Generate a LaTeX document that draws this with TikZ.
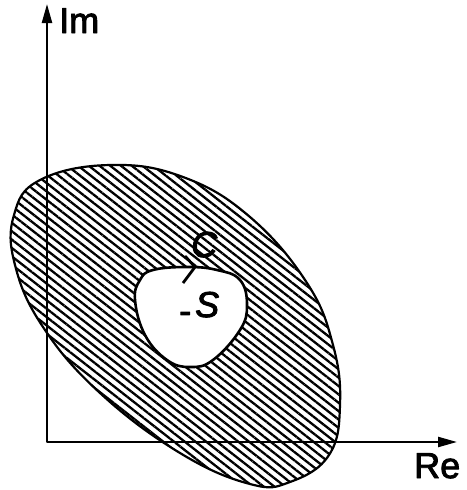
\documentclass[tikz,border=0pt]{standalone}
\usepackage{fontspec}
\setmainfont{Liberation Sans}
\newfontfamily\labelfont[FakeBold=2.5]{Liberation Sans}
\usetikzlibrary{arrows.meta, patterns.meta}

\begin{document}
\begin{tikzpicture}[x=1pt, y=-1pt, line join=round]
    % Fix the frame of the picture
    \useasboundingbox (0,0) rectangle (466,490);

    \tikzset{
        axis/.style={line width=2.2pt, {Triangle[length=19pt, width=10pt]}-{Triangle[length=19pt, width=10pt]}},
        axisname/.style={font=\labelfont\fontsize{36}{36}\selectfont, inner sep=0pt, anchor=base west},
        hatched/.style={pattern={Lines[angle=-38, distance=6.6pt, line width=2.3pt]}},
        rim/.style={line width=2.2pt},
    }

    % Define the corner and the ends of the axes
    \coordinate (origin) at (47,442);
    \coordinate (imtip) at (47,4);
    \coordinate (retip) at (457,442);

    % Draw the hatched region
    \draw[rim, hatched] plot[smooth cycle, tension=0.7] coordinates {
        (110,165) (183,177) (250,217) (307,283) (333,345)
        (340,405) (329,455) (290,482) (250,484) (180,453) (100,393) (43,327)
        (15,265) (14,215) (40,180)};

    % Draw the hole S
    \draw[rim, line width=2.6pt, fill=white] plot[smooth cycle, tension=0.7] coordinates {
        (153,270) (187,267) (217,270) (240,280) (247,305) (240,330)
        (213,360) (190,367) (167,360) (145,335) (135,300) (140,280)};

    % Draw the direction of C
    \draw[line width=2.8pt] (185,256) -- (195,267) -- (183,283);

    % Draw axes
    \draw[axis] (imtip) -- (origin) -- (retip);

    % Label axes and curves
    \node[axisname] (im) at (59,33) {Im};
    \node[axisname] (re) at (414,478) {Re};
    \node[axisname] (c) at (191,257) {\itshape C};
    \node[axisname] (s) at (179,317) {\raisebox{-6pt}{-}\hspace{4pt}\itshape S};

\end{tikzpicture}
\end{document}
